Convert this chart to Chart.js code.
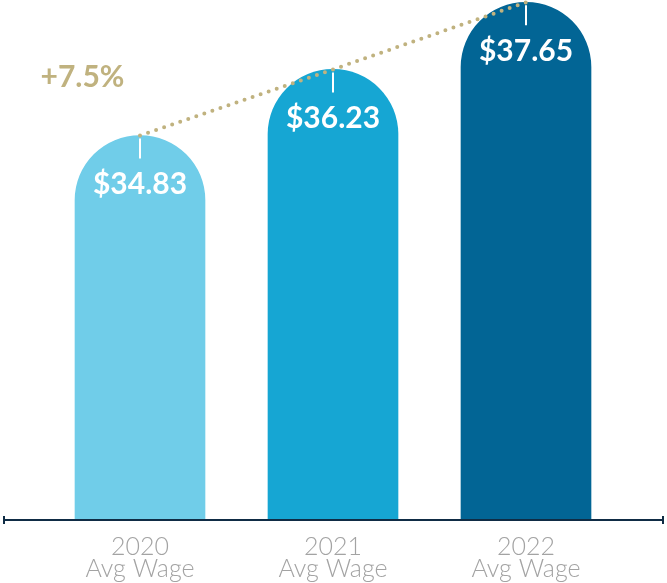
<!DOCTYPE html>
<html>
<head>
<meta charset="utf-8">
<script src="https://cdn.jsdelivr.net/npm/chart.js@4"></script>
<style>
  body { margin: 0; background: #fff; }
  #wrap { width: 667px; height: 583px; position: relative; }
</style>
</head>
<body>
<div id="wrap"><canvas id="wageChart"></canvas></div>
<script>
// Data
const years = ["2020", "2021", "2022"];
const subLabel = "Avg Wage";
const wages = [34.83, 36.23, 37.65];
const barColors = ["#70cde9", "#16a6d3", "#026595"];
const growthLabel = "+7.5%";

// Colours
const gold = "#c0b27f";
const axisColor = "#0f2c45";
const labelGray = "#a3a3a3";

// Draws axis line, white ticks and value labels, growth note
const decorPlugin = {
  id: "decor",
  afterDatasetsDraw(chart) {
    const ctx = chart.ctx;
    const area = chart.chartArea;
    const bars = chart.getDatasetMeta(1).data;

    ctx.save();
    // base axis with end caps
    const x0 = area.left - 40.5;
    const x1 = area.right + 41.5;
    ctx.strokeStyle = axisColor;
    ctx.lineWidth = 2;
    ctx.beginPath();
    ctx.moveTo(x0, area.bottom);
    ctx.lineTo(x1, area.bottom);
    ctx.moveTo(x0 + 1, area.bottom - 4);
    ctx.lineTo(x0 + 1, area.bottom + 4);
    ctx.moveTo(x1 - 1, area.bottom - 4);
    ctx.lineTo(x1 - 1, area.bottom + 4);
    ctx.stroke();

    // white tick + value inside each bar
    ctx.strokeStyle = "#fff";
    ctx.fillStyle = "#fff";
    ctx.font = "bold 30px Lato";
    ctx.textAlign = "center";
    ctx.textBaseline = "middle";
    bars.forEach((bar, i) => {
      ctx.beginPath();
      ctx.moveTo(bar.x, bar.y + 3);
      ctx.lineTo(bar.x, bar.y + 23);
      ctx.stroke();
      ctx.fillText("$" + wages[i].toFixed(2), bar.x, bar.y + 49);
    });

    // growth note
    ctx.fillStyle = gold;
    ctx.font = "bold 30px Lato";
    ctx.fillText(growthLabel, area.left + 39, 77);
    ctx.restore();
  }
};

const ctx = document.getElementById("wageChart").getContext("2d");
const wageChart = new Chart(ctx, {
  data: {
    labels: years.map((y) => [y, subLabel]),
    datasets: [
      {
        type: "line",
        data: wages,
        borderColor: gold,
        borderWidth: 4,
        borderDash: [0, 8.5],
        borderCapStyle: "round",
        pointRadius: 0,
        tension: 0,
        order: 0,
      },
      {
        type: "bar",
        data: wages,
        backgroundColor: barColors,
        barThickness: 130,
        borderRadius: { topLeft: 65, topRight: 65, bottomLeft: 0, bottomRight: 0 },
        borderSkipped: "bottom",
        order: 1,
      },
    ],
  },
  options: {
    responsive: true,
    maintainAspectRatio: false,
    animation: false,
    layout: { padding: { left: 43.5, right: 44.5, top: 0, bottom: -13 } },
    plugins: {
      legend: { display: false },
      tooltip: { enabled: false },
    },
    scales: {
      x: {
        grid: { display: false, drawTicks: false },
        border: { display: false },
        ticks: {
          padding: 16,
          color: labelGray,
          font: { family: "Lato", size: 25, weight: 300, lineHeight: "22px" },
        },
      },
      y: {
        display: false,
        min: 26.69,
        max: 37.7,
      },
    },
  },
  plugins: [decorPlugin],
});
</script>
</body>
</html>
